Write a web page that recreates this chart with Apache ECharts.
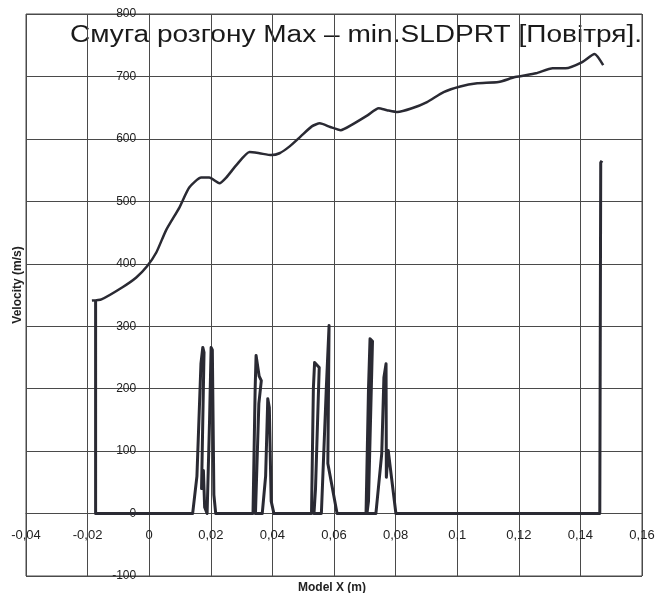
<!DOCTYPE html>
<html><head><meta charset="utf-8">
<script src="https://cdn.jsdelivr.net/npm/echarts@6/dist/echarts.min.js"></script>
<style>html,body{margin:0;padding:0;background:#fff}#c{width:656px;height:593px}</style>
</head><body><div id="c"></div>
<script>
const titleText = 'Смуга розгону Max – min.SLDPRT [Повітря].';
const xName = 'Model X (m)';
const yName = 'Velocity (m/s)';
const xTicks = [-0.04, 0.16, 0.02];
const yTicks = [-100, 800, 100];

// upper velocity curve [x, v]
const upperCurve = [
[-0.0186,341],[-0.0155,343],[-0.0088,362],[-0.0042,378],[-0.0007,396],[0.0023,418],[0.0055,454],
[0.0098,490],[0.0130,522],[0.0169,538],[0.0195,538],[0.0228,529],[0.0250,538],[0.0283,558],
[0.0326,579],[0.0358,577],[0.0397,574],[0.0423,577],[0.0456,588],[0.0492,604],[0.0528,620],
[0.0554,625],[0.0588,619],[0.0622,614],[0.0656,622],[0.0710,638],[0.0745,649],[0.0772,646],
[0.0806,643],[0.0853,649],[0.0902,659],[0.0956,675],[0.1010,684],[0.1065,689],[0.1134,691],
[0.1188,699],[0.1256,705],[0.1310,713],[0.1352,713],[0.1406,723],[0.1446,736],[0.1474,718]
];

// lower trace with spikes [x, v]
const lowerTrace = [
[-0.0174,341],[-0.0174,0],[0.0141,0],[0.0155,60],[0.0168,240],[0.0174,266],[0.0178,258],
[0.0170,40],[0.0176,69],[0.0180,10],[0.0188,0],[0.0196,150],[0.0201,266],[0.0205,262],
[0.0210,30],[0.0216,0],[0.0337,0],[0.0344,200],[0.0347,253],[0.0357,220],[0.0364,213],
[0.0356,176],[0.0345,0],[0.0367,0],[0.0378,60],[0.0385,184],[0.0390,170],[0.0396,20],
[0.0405,0],[0.0527,0],[0.0533,200],[0.0537,242],[0.0552,234],[0.0540,40],[0.0535,0],
[0.0559,0],[0.0575,200],[0.0584,301],[0.0580,80],[0.0610,0],[0.0704,0],[0.0712,200],
[0.0717,280],[0.0725,276],[0.0712,20],[0.0707,0],[0.0736,0],[0.0755,96],[0.0762,218],
[0.0769,240],[0.0770,58],[0.0776,101],[0.0801,0],[0.1463,0],[0.1466,562],[0.1470,565]
];

const fmtX = v => { const r = Math.round(v*100)/100; return String(r).replace('.', ','); };
const gridColor = '#4a4a4a';
const W = 656, H = 593, GL = 26, GR = 14, GT = 14, GB = 17;
const plotW = W - GL - GR, plotH = H - GT - GB;
// shift axes so they cross at the origin
const yAxisOffset = -plotW * (0 - xTicks[0]) / (xTicks[1] - xTicks[0]);
const xAxisOffset = -plotH * (0 - yTicks[0]) / (yTicks[1] - yTicks[0]);

const chart = echarts.init(document.getElementById('c'));
chart.setOption({
  backgroundColor: '#fff',
  animation: false,
  grid: { left: GL, right: GR, top: GT, bottom: GB, show: true, borderColor: gridColor, borderWidth: 1,
    containLabel: false, outerBoundsMode: 'none' },
  xAxis: { type: 'value', min: xTicks[0], max: xTicks[1], interval: xTicks[2], position: 'bottom',
    offset: xAxisOffset,
    axisLine: { onZero: false, lineStyle: { color: gridColor, width: 1 } },
    axisTick: { show: false },
    axisLabel: { formatter: fmtX, margin: 15, color: '#222', fontFamily: 'Liberation Sans', fontSize: 13 },
    splitLine: { lineStyle: { color: gridColor, width: 1 } } },
  yAxis: { type: 'value', min: yTicks[0], max: yTicks[1], interval: yTicks[2], position: 'left',
    offset: yAxisOffset,
    axisLine: { onZero: false, lineStyle: { color: gridColor, width: 1 } },
    axisTick: { show: false },
    axisLabel: { margin: 13, color: '#222', fontFamily: 'Liberation Sans', fontSize: 12 },
    splitLine: { lineStyle: { color: gridColor, width: 1 } } },
  graphic: [
    { type: 'text', x: 70, y: 24, scaleX: 1.22,
      style: { text: titleText, fill: '#1a1a1a', font: '23px "Liberation Sans"', textAlign: 'left', textVerticalAlign: 'top' } },
    { type: 'text', x: 18, y: 285, rotation: Math.PI/2,
      style: { text: yName, fill: '#222', font: 'bold 12px "Liberation Sans"', textAlign: 'center', textVerticalAlign: 'middle' } },
    { type: 'text', x: 332, y: 588,
      style: { text: xName, fill: '#222', font: 'bold 12px "Liberation Sans"', textAlign: 'center', textVerticalAlign: 'middle' } }
  ],
  series: [
    { type: 'line', data: upperCurve, showSymbol: false, smooth: 0.2,
      lineStyle: { color: '#2a2a33', width: 2.5 } },
    { type: 'line', data: lowerTrace, showSymbol: false,
      lineStyle: { color: '#2a2a33', width: 3, join: 'round' } }
  ]
});
</script></body></html>
